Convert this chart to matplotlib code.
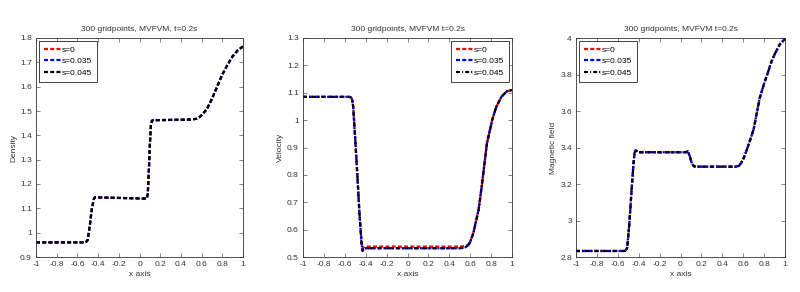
import matplotlib
matplotlib.use("Agg")
import matplotlib.pyplot as plt
from matplotlib import font_manager

_avail = {f.name for f in font_manager.fontManager.ttflist}
_fam = [f for f in ['Liberation Sans Narrow', 'Liberation Sans', 'DejaVu Sans'] if f in _avail]
plt.rcParams['font.family'] = _fam

# ---- data ----
x_density = [-1, -0.52, -0.5, -0.48, -0.46, -0.44, -0.43, 0.07, 0.08, 0.09, 0.1, 0.11,
             0.12, 0.13, 0.5, 0.55, 0.58, 0.6, 0.63, 0.66, 0.7, 0.75, 0.8, 0.85, 0.9,
             0.95, 1.0]
density_s0 = [0.96, 0.96, 0.97, 1.03, 1.10, 1.14, 1.145, 1.14, 1.16, 1.25, 1.36, 1.44,
              1.46, 1.462, 1.465, 1.468, 1.475, 1.483, 1.497, 1.515, 1.55, 1.60, 1.65,
              1.69, 1.725, 1.75, 1.765]
density_s035 = [0.96, 0.96, 0.97, 1.03, 1.10, 1.14, 1.145, 1.14, 1.16, 1.25, 1.36, 1.44,
                1.46, 1.462, 1.465, 1.468, 1.475, 1.483, 1.497, 1.515, 1.55, 1.60, 1.65,
                1.69, 1.725, 1.75, 1.765]
density_s045 = [0.96, 0.96, 0.97, 1.03, 1.10, 1.14, 1.145, 1.14, 1.16, 1.25, 1.36, 1.44,
                1.46, 1.462, 1.465, 1.468, 1.475, 1.483, 1.497, 1.515, 1.55, 1.60, 1.65,
                1.69, 1.725, 1.75, 1.765]

x_velocity = [-1, -0.56, -0.54, -0.53, -0.52, -0.5, -0.48, -0.46, -0.44, -0.43, -0.41, -0.38,
              0.5, 0.55, 0.58, 0.6, 0.63, 0.68, 0.71, 0.76, 0.81, 0.85, 0.9, 0.95, 1.0]
velocity_s0 = [1.085, 1.085, 1.083, 1.075, 1.05, 0.93, 0.80, 0.66, 0.56, 0.53, 0.538, 0.538,
               0.538, 0.54, 0.545, 0.557, 0.587, 0.672, 0.757, 0.915, 1.0, 1.049, 1.086,
               1.105, 1.11]
velocity_s035 = [1.085, 1.085, 1.083, 1.075, 1.05, 0.93, 0.80, 0.66, 0.55, 0.524, 0.532, 0.532,
                 0.532, 0.535, 0.542, 0.555, 0.587, 0.672, 0.757, 0.915, 1.0, 1.049, 1.086,
                 1.105, 1.11]
velocity_s045 = [1.085, 1.085, 1.083, 1.075, 1.05, 0.93, 0.80, 0.66, 0.55, 0.522, 0.532, 0.532,
                 0.532, 0.535, 0.542, 0.555, 0.587, 0.672, 0.757, 0.915, 1.0, 1.049, 1.086,
                 1.105, 1.11]

x_magnetic = [-1, -0.53, -0.51, -0.49, -0.47, -0.45, -0.44, -0.43, -0.4, 0.05, 0.07, 0.09,
              0.11, 0.13, 0.15, 0.53, 0.56, 0.58, 0.6, 0.63, 0.66, 0.7, 0.73, 0.76, 0.8,
              0.83, 0.87, 0.9, 0.95, 1.0]
magnetic_s0 = [2.833, 2.833, 2.85, 2.98, 3.15, 3.31, 3.37, 3.385, 3.374, 3.374, 3.38, 3.35,
               3.31, 3.297, 3.295, 3.295, 3.30, 3.315, 3.335, 3.38, 3.43, 3.50, 3.59, 3.675,
               3.75, 3.80, 3.87, 3.91, 3.965, 3.995]
magnetic_s035 = [2.833, 2.833, 2.85, 2.98, 3.15, 3.31, 3.37, 3.385, 3.374, 3.374, 3.38, 3.35,
                 3.31, 3.297, 3.295, 3.295, 3.30, 3.315, 3.335, 3.38, 3.43, 3.50, 3.59, 3.675,
                 3.75, 3.80, 3.87, 3.91, 3.965, 3.995]
magnetic_s045 = [2.833, 2.833, 2.85, 2.98, 3.15, 3.31, 3.37, 3.385, 3.374, 3.374, 3.38, 3.35,
                 3.31, 3.297, 3.295, 3.295, 3.30, 3.315, 3.335, 3.38, 3.43, 3.50, 3.59, 3.675,
                 3.75, 3.80, 3.87, 3.91, 3.965, 3.995]

labels = ['s=0', 's=0.035', 's=0.045']
colors = ['#ff0000', '#0000ff', '#000000']
title_left = '300 gridpoints, MVFVM, t=0.2s'
title_other = '300 gridpoints, MVFVM t=0.2s'

fig = plt.figure(figsize=(8.0, 2.92), dpi=100)
W, H = 800, 292
def add_axes(x0, x1, y0, y1):
    return fig.add_axes([x0 / W, 1 - y1 / H, (x1 - x0) / W, (y1 - y0) / H])

ax1 = add_axes(36, 243, 38, 257)
ax2 = add_axes(303, 512, 38, 257)
ax3 = add_axes(576, 785, 38, 257)

fs = 6
xt = [-1, -0.8, -0.6, -0.4, -0.2, 0, 0.2, 0.4, 0.6, 0.8, 1]

def fmt(v):
    s = ('%.2f' % v).rstrip('0').rstrip('.')
    return '0' if s in ('-0', '') else s

def style(ax, yt, ylim, ylabel, title):
    ax.set_xlim(-1, 1)
    ax.set_ylim(*ylim)
    ax.set_xticks(xt)
    ax.set_xticklabels([fmt(v) for v in xt], fontsize=fs)
    ax.set_yticks(yt)
    ax.set_yticklabels([fmt(v) for v in yt], fontsize=fs)
    ax.tick_params(direction='in', top=True, right=True, length=3, width=0.5,
                   color='#555555', labelcolor='#333333', pad=3)
    for sp in ax.spines.values():
        sp.set_linewidth(0.6)
        sp.set_color('#333333')
    ax.set_xlabel('x axis', fontsize=fs, labelpad=2, color='#333333')
    ax.set_ylabel(ylabel, fontsize=fs, labelpad=2, color='#333333')
    ax.set_title(title, fontsize=fs, pad=5, color='#333333')

lw = 1.6
dash = (1.8, 1.0)
dashdot = (1.8, 0.9, 0.5, 0.9)
# Density
ax1.plot(x_density, density_s0, '--', dashes=dash, color=colors[0], lw=lw, label=labels[0])
ax1.plot(x_density, density_s035, '--', dashes=dash, color=colors[1], lw=lw, label=labels[1])
ax1.plot(x_density, density_s045, '--', dashes=dash, color=colors[2], lw=lw, label=labels[2])
style(ax1, [0.9, 1, 1.1, 1.2, 1.3, 1.4, 1.5, 1.6, 1.7, 1.8], (0.9, 1.8), 'Density', title_left)

# Velocity
ax2.plot(x_velocity, velocity_s0, '--', dashes=dash, color=colors[0], lw=lw, label=labels[0])
ax2.plot(x_velocity, velocity_s035, '--', dashes=dash, color=colors[1], lw=lw, label=labels[1])
ax2.plot(x_velocity, velocity_s045, '-.', dashes=dashdot, color=colors[2], lw=lw, label=labels[2])
style(ax2, [0.5, 0.6, 0.7, 0.8, 0.9, 1, 1.1, 1.2, 1.3], (0.5, 1.3), 'Velocity', title_other)

# Magnetic field
ax3.plot(x_magnetic, magnetic_s0, '--', dashes=dash, color=colors[0], lw=lw, label=labels[0])
ax3.plot(x_magnetic, magnetic_s035, '--', dashes=dash, color=colors[1], lw=lw, label=labels[1])
ax3.plot(x_magnetic, magnetic_s045, '-.', dashes=dashdot, color=colors[2], lw=lw, label=labels[2])
style(ax3, [2.8, 3, 3.2, 3.4, 3.6, 3.8, 4], (2.8, 4.0), 'Magnetic field', title_other)

for ax, loc in ((ax1, 'upper left'), (ax2, 'upper right'), (ax3, 'upper left')):
    leg = ax.legend(loc=loc, fontsize=fs, frameon=True, fancybox=False,
                    edgecolor='#222222', framealpha=1, handlelength=2.0,
                    handletextpad=0.15, borderpad=0.6, labelspacing=0.45,
                    borderaxespad=0.35)
    leg.get_frame().set_linewidth(0.6)

fig.savefig('out.png', dpi=100)
